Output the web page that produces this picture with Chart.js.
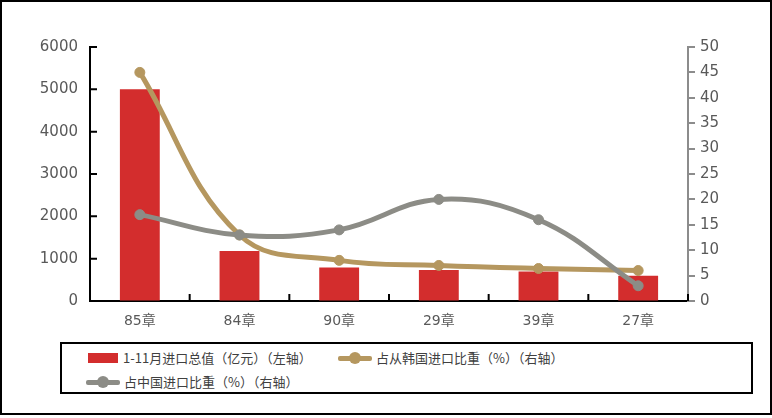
<!DOCTYPE html>
<html>
<head>
<meta charset="utf-8">
<script src="https://cdn.jsdelivr.net/npm/chart.js@4.4.1/dist/chart.umd.min.js"></script>
<style>
  html, body { margin: 0; padding: 0; background: #fff; }
  #wrap { position: relative; width: 772px; height: 418px; }
  #box { position: absolute; left: 0; top: 0; width: 772px; height: 415px; border: 2px solid #000; box-sizing: border-box; pointer-events: none; }
  #chartBox { position: absolute; left: 0; top: 0; width: 772px; height: 340px; }
  #legend { position: absolute; left: 60px; top: 342px; width: 693px; height: 52px; border: 2px solid #000; box-sizing: border-box;
            font-family: "Noto Sans CJK SC", sans-serif; font-size: 13px; color: #404040; }
  .item { position: absolute; height: 16px; line-height: 16px; white-space: nowrap; }
  .sym { position: absolute; top: 0; height: 16px; }
  .txt { position: absolute; top: 0; }
  .line { position: absolute; left: 0; width: 34px; top: 6px; height: 5px; border-radius: 2px; }
  .dot { position: absolute; left: 11px; top: 2px; width: 12px; height: 12px; border-radius: 50%; }
</style>
</head>
<body>
<div id="wrap">
  <div id="chartBox"><canvas id="myChart" width="772" height="340"></canvas></div>
  <div id="legend"></div>
  <div id="box"></div>
</div>
<script>
// data
let categories = ['85章', '84章', '90章', '29章', '39章', '27章'];
let importValue = [5000, 1180, 790, 735, 695, 595];       // 亿元, left axis
let shareOfKorea = [45, 13, 8, 7, 6.4, 6];              // %, right axis
let shareOfChina = [17, 13, 14, 20, 16, 3];              // %, right axis
let leftTicks = [0, 1000, 2000, 3000, 4000, 5000, 6000];
let rightTicks = [0, 5, 10, 15, 20, 25, 30, 35, 40, 45, 50];

let names = ['1-11月进口总值（亿元）（左轴）', '占从韩国进口比重（%）（右轴）', '占中国进口比重（%）（右轴）'];
let colors = ['#d32d2d', '#b5975f', '#8c8c86'];

// legend (html, boxed like the original)
let legendItems = [
    { x: 26, y: 6, kind: 'bar' },
    { x: 276, y: 6, kind: 'line' },
    { x: 24, y: 30, kind: 'line' }
];
let legendEl = document.getElementById('legend');
legendItems.forEach((it, i) => {
    let d = document.createElement('div');
    d.className = 'item';
    d.style.left = it.x + 'px';
    d.style.top = it.y + 'px';
    let sym;
    if (it.kind === 'bar') {
        sym = '<span class="sym" style="left:0;width:30px;"><span style="position:absolute;left:0;top:3px;width:30px;height:10px;background:' + colors[i] + '"></span></span>';
        d.innerHTML = sym + '<span class="txt" style="left:35px">' + names[i] + '</span>';
    } else {
        sym = '<span class="sym" style="left:0;width:34px;"><span class="line" style="background:' + colors[i] + '"></span><span class="dot" style="background:' + colors[i] + '"></span></span>';
        d.innerHTML = sym + '<span class="txt" style="left:38px">' + names[i] + '</span>';
    }
    legendEl.appendChild(d);
});

// ticks that point into the plot on the left and bottom axes
const innerTicks = {
    id: 'innerTicks',
    afterDraw(chart) {
        let ctx = chart.ctx;
        let area = chart.chartArea;
        let y = chart.scales.y;
        let x = chart.scales.x;
        ctx.save();
        ctx.strokeStyle = '#000';
        ctx.lineWidth = 2;
        ctx.beginPath();
        y.ticks.forEach((t, i) => {
            let py = y.getPixelForTick(i);
            ctx.moveTo(area.left, py);
            ctx.lineTo(area.left + 7, py);
        });
        let n = categories.length;
        for (let i = 1; i <= n; i++) {
            let px = i < n ? (x.getPixelForValue(i - 1) + x.getPixelForValue(i)) / 2 : area.right;
            ctx.moveTo(px, area.bottom);
            ctx.lineTo(px, area.bottom - 7);
        }
        ctx.stroke();
        ctx.restore();
    }
};

let tickFont = { family: 'DejaVu Sans', size: 15 };

let ctx = document.getElementById('myChart').getContext('2d');
new Chart(ctx, {
    data: {
        labels: categories,
        datasets: [{
            type: 'line',
            label: names[2],
            data: shareOfChina,
            yAxisID: 'y1',
            borderColor: colors[2],
            backgroundColor: colors[2],
            borderWidth: 5,
            pointRadius: 5,
            pointBorderWidth: 1,
            pointHoverRadius: 5,
            tension: 0.4,
            order: 0
        }, {
            type: 'line',
            label: names[1],
            data: shareOfKorea,
            yAxisID: 'y1',
            borderColor: colors[1],
            backgroundColor: colors[1],
            borderWidth: 5,
            pointRadius: 5,
            pointBorderWidth: 1,
            pointHoverRadius: 5,
            tension: 0.4,
            order: 1
        }, {
            type: 'bar',
            label: names[0],
            data: importValue,
            yAxisID: 'y',
            backgroundColor: colors[0],
            barPercentage: 0.4,
            categoryPercentage: 1,
            order: 2
        }]
    },
    options: {
        responsive: false,
        animation: false,
        maintainAspectRatio: false,
        layout: { padding: { top: 47, left: 0, right: 0, bottom: 0 } },
        plugins: { legend: { display: false }, tooltip: { enabled: false } },
        scales: {
            x: {
                grid: { display: false, drawTicks: false },
                border: { display: true, color: '#000', width: 2 },
                ticks: { color: '#595959', font: { family: 'DejaVu Sans, Noto Sans CJK SC', size: 14 }, padding: 12 },
                afterFit: s => { s.height = 39; }
            },
            y: {
                position: 'left',
                min: 0, max: 6000,
                afterBuildTicks: s => { s.ticks = leftTicks.map(v => ({ value: v })); },
                grid: { drawOnChartArea: false, drawTicks: false },
                border: { display: true, color: '#000', width: 2 },
                ticks: { color: '#595959', font: tickFont, padding: 12, callback: v => String(v) },
                afterFit: s => { s.width = 90; }
            },
            y1: {
                position: 'right',
                min: 0, max: 50,
                afterBuildTicks: s => { s.ticks = rightTicks.map(v => ({ value: v })); },
                grid: { drawOnChartArea: false, color: '#8c8c8c', lineWidth: 2, tickLength: 7 },
                border: { display: true, color: '#8c8c8c', width: 2 },
                ticks: { color: '#595959', font: tickFont, padding: 5, callback: v => String(v) },
                afterFit: s => { s.width = 84; }
            }
        }
    },
    plugins: [innerTicks]
});
</script>
</body>
</html>
